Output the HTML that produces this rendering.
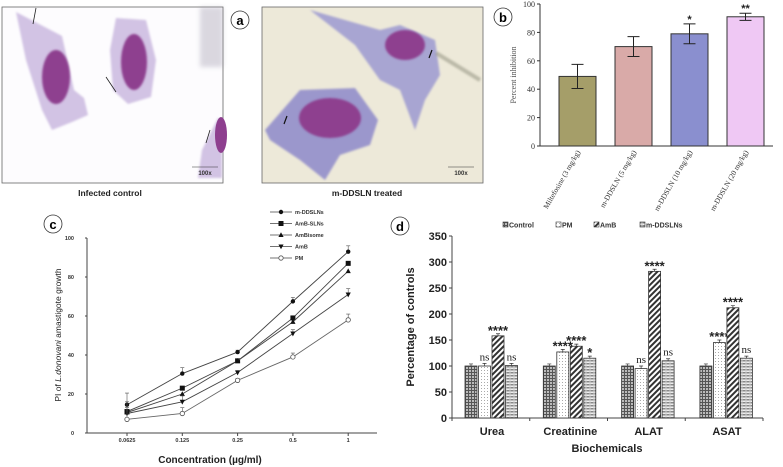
<!DOCTYPE html>
<html><head><meta charset="utf-8"><style>
html,body{margin:0;padding:0;background:#fff;}
svg{display:block;font-family:"Liberation Sans",sans-serif;}
</style></head><body>
<svg width="783" height="467" viewBox="0 0 783 467" xmlns="http://www.w3.org/2000/svg">
<defs>
<filter id="bl" x="-20%" y="-20%" width="140%" height="140%"><feGaussianBlur stdDeviation="2.5"/></filter>
<filter id="bl1"><feGaussianBlur stdDeviation="1"/></filter>
<pattern id="pCtrl" width="3" height="3" patternUnits="userSpaceOnUse"><rect width="3" height="3" fill="#bbb"/><path d="M0 0.5H3M0.5 0V3" stroke="#555" stroke-width="1"/></pattern>
<pattern id="pPM" width="3" height="3" patternUnits="userSpaceOnUse"><rect width="3" height="3" fill="#fff"/><rect x="1" y="1" width="1" height="1" fill="#aaa"/></pattern>
<pattern id="pAmB" width="4" height="4" patternUnits="userSpaceOnUse" patternTransform="rotate(45)"><rect width="4" height="4" fill="#fff"/><rect width="2" height="4" fill="#333"/></pattern>
<pattern id="pDD" width="4" height="3" patternUnits="userSpaceOnUse"><rect width="4" height="3" fill="#eee"/><rect y="0" width="4" height="1.5" fill="#888"/><rect x="1.5" width="1" height="3" fill="#ccc"/></pattern>
</defs>

<g>
<rect x="2" y="7" width="221" height="176" fill="#fdfcfe" stroke="#666" stroke-width="0.8"/>
<rect x="200" y="7" width="23" height="60" fill="#9a94a8" opacity="0.35" filter="url(#bl)"/>
<path d="M16 12 L62 36 L74 90 L84 98 L88 115 L72 122 L52 130 L42 110 L26 60 Z" fill="#d2c3e4" filter="url(#bl1)"/>
<ellipse cx="56" cy="77" rx="14" ry="27" fill="#8e3f8f" filter="url(#bl1)"/>
<path d="M116 18 L146 20 L156 60 L151 97 L128 104 L113 90 L110 50 Z" fill="#d2c3e4" filter="url(#bl1)"/>
<ellipse cx="134" cy="62" rx="13" ry="28" fill="#8e3f8f" filter="url(#bl1)"/>
<path d="M202 150 L218 118 L222 120 L222 178 L198 178 Z" fill="#d2c3e4" filter="url(#bl1)"/>
<ellipse cx="221" cy="135" rx="6" ry="18" fill="#8e3f8f"/>
<path d="M36 8 L33 24 M106 77 L116 92 M210 130 L206 143" stroke="#222" stroke-width="0.8"/>
<line x1="192" y1="167" x2="218" y2="167" stroke="#333" stroke-width="0.6"/>
<text x="205" y="175" font-size="6" font-weight="bold" text-anchor="middle" fill="#333">100x</text>
</g>
<text x="110" y="196" font-size="8.5" font-weight="bold" text-anchor="middle" fill="#222">Infected control</text>
<g><circle cx="240" cy="20" r="9" fill="#fff" stroke="#333" stroke-width="0.8"/><text x="240" y="25" font-size="13" font-weight="bold" text-anchor="middle">a</text></g>

<g>
<rect x="262" y="7" width="221" height="176" fill="#ede9d9" stroke="#666" stroke-width="0.8"/>
<path d="M310 10 L380 30 L400 25 L435 40 L440 75 L425 100 L415 130 L400 90 L380 80 L355 45 Z" fill="#a8a5d2" filter="url(#bl1)"/>
<ellipse cx="405" cy="45" rx="20" ry="15" fill="#8e3f8f" filter="url(#bl1)"/>
<path d="M265 130 L300 90 L355 88 L378 120 L370 145 L340 155 L325 180 L300 160 L270 140 Z" fill="#9b97cc" filter="url(#bl1)"/>
<ellipse cx="330" cy="118" rx="31" ry="20" fill="#8e3f8f" filter="url(#bl1)"/>
<path d="M436 53 L480 80" stroke="#8a8a78" stroke-width="4" opacity="0.5" filter="url(#bl1)"/>
<path d="M432 50 L429 58 M287 116 L284 124" stroke="#111" stroke-width="1.2"/>
<line x1="448" y1="167" x2="474" y2="167" stroke="#333" stroke-width="0.6"/>
<text x="461" y="175" font-size="6" font-weight="bold" text-anchor="middle" fill="#333">100x</text>
</g>
<text x="367" y="196" font-size="8.5" font-weight="bold" text-anchor="middle" fill="#222">m-DDSLN treated</text>
<g><circle cx="503" cy="17" r="9" fill="#fff" stroke="#333" stroke-width="0.8"/><text x="503" y="22" font-size="13" font-weight="bold" text-anchor="middle">b</text></g>

<g id="chartB"></g>
<g id="chartC"></g>
<g id="chartD"></g>
<g><circle cx="53" cy="224" r="9" fill="#fff" stroke="#333" stroke-width="0.8"/><text x="53" y="229" font-size="13" font-weight="bold" text-anchor="middle">c</text></g>
<g><circle cx="400" cy="226" r="9" fill="#fff" stroke="#333" stroke-width="0.8"/><text x="400" y="231" font-size="13" font-weight="bold" text-anchor="middle">d</text></g>
</svg>
<script>
const NS="http://www.w3.org/2000/svg";
function mk(p,t,a,txt){const e=document.createElementNS(NS,t);for(const k in a)e.setAttribute(k,a[k]);if(txt!==undefined)e.textContent=txt;p.appendChild(e);return e;}

// Chart B data
const bCats=["Miltefosine (3 mg/kg)","m-DDSLN (5 mg/kg)","m-DDSLN (10 mg/kg)","m-DDSLN (20 mg/kg)"];
const bVals=[49,70,79,91];
const bErr=[8.5,7,7,2.5];
const bSig=["","","*","**"];
const bColors=["#a59e69","#d9aaa8","#8a8fcf","#efc8f4"];
const bTicks=[0,20,40,60,80,100];

// Chart C data
const cCats=["0.0625","0.125","0.25","0.5","1"];
const cSeries=["m-DDSLNs","AmB-SLNs","AmBisome","AmB","PM"];
const cMDD=[14.5,30.5,41.5,67.5,93];
const cAmBSLN=[11,23,37,59,87];
const cAmBisome=[10.5,20,37,57,83];
const cAmB=[10,16,31,51,71];
const cPM=[7,10,27,39,58];
const cErr=[6,3,1,2,3];
const cTicks=[0,20,40,60,80,100];

// Chart D data
const dCats=["Urea","Creatinine","ALAT","ASAT"];
const dSeries=["Control","PM","AmB","m-DDSLNs"];
const dControl=[100,100,100,100];
const dPM=[100,127,95,145];
const dAmB=[158,138,282,212];
const dDD=[101,115,110,115];
const dSigPM=["ns","****","ns","****"];
const dSigAmB=["****","****","****","****"];
const dSigDD=["ns","*","ns","ns"];
const dTicks=[0,50,100,150,200,250,300,350];

(function(){
const g=document.getElementById('chartB');
const y=v=>146-v*1.42;
const x=i=>577.5+i*56;
mk(g,'line',{x1:540,y1:4,x2:540,y2:146,stroke:'#333','stroke-width':1});
mk(g,'line',{x1:540,y1:146,x2:773,y2:146,stroke:'#333','stroke-width':1});
bTicks.forEach(t=>{mk(g,'line',{x1:537,y1:y(t),x2:540,y2:y(t),stroke:'#333'});
 const e=mk(g,'text',{x:535,y:y(t)+3,'font-size':8,'text-anchor':'end','font-family':'Liberation Serif,serif',fill:'#333'},t);});
const yt=mk(g,'text',{x:0,y:0,transform:'translate(516,75) rotate(-90)','font-size':8,'text-anchor':'middle','font-family':'Liberation Serif,serif',fill:'#555'},'Percent inhibition');

bVals.forEach((v,i)=>{
 const r=mk(g,'rect',{x:x(i)-18.5,y:y(v),width:37,height:146-y(v),fill:bColors[i],stroke:'#333','stroke-width':1});
 
 const t=y(v+bErr[i]),b=y(v-bErr[i]);
 mk(g,'path',{d:`M${x(i)} ${t}V${b}M${x(i)-6} ${t}H${x(i)+6}M${x(i)-6} ${b}H${x(i)+6}`,stroke:'#222',fill:'none'});
 if(bSig[i])mk(g,'text',{x:x(i),y:t-1,'font-size':11,'font-weight':'bold','text-anchor':'middle',fill:'#222'},bSig[i]);
 const l=mk(g,'text',{x:0,y:0,transform:`translate(${x(i)+3},${152}) rotate(-60)`,'font-size':7.5,'text-anchor':'end','font-family':'Liberation Serif,serif',fill:'#333'},bCats[i]);
 
});
})();

(function(){
const g=document.getElementById('chartC');
const y=v=>433-v*1.95;
const x=i=>127+i*55.3;
mk(g,'line',{x1:87,y1:238,x2:87,y2:433,stroke:'#444'});
mk(g,'line',{x1:87,y1:433,x2:377,y2:433,stroke:'#444'});
cTicks.forEach(t=>{mk(g,'line',{x1:85,y1:y(t),x2:87,y2:y(t),stroke:'#444'});
 const e=mk(g,'text',{x:74,y:y(t)+2,'font-size':5.5,'font-weight':'bold','text-anchor':'end',fill:'#333'},t);});
cCats.forEach((c,i)=>{mk(g,'line',{x1:x(i),y1:433,x2:x(i),y2:436,stroke:'#444'});
 const e=mk(g,'text',{x:x(i),y:442,'font-size':5.5,'font-weight':'bold','text-anchor':'middle',fill:'#333'},c);});
const xt=mk(g,'text',{x:210,y:463,'font-size':10,'font-weight':'bold','text-anchor':'middle',fill:'#222'},'Concentration (µg/ml)');

const yt=mk(g,'text',{x:0,y:0,transform:'translate(61,335) rotate(-90)','font-size':8.5,'text-anchor':'middle',fill:'#222'});

yt.innerHTML='PI of <tspan font-style="italic">L.donovani</tspan> amastigote growth';
const data=[cMDD,cAmBSLN,cAmBisome,cAmB,cPM];
const mkr=['circle','square','tri','tridown','open'];
function marker(p,m,cx,cy){
 if(m==='circle')mk(p,'circle',{cx,cy,r:2.2,fill:'#111'});
 else if(m==='square')mk(p,'rect',{x:cx-2.5,y:cy-2.5,width:5,height:5,fill:'#111'});
 else if(m==='tri')mk(p,'path',{d:`M${cx} ${cy-2.8}L${cx+2.6} ${cy+2}L${cx-2.6} ${cy+2}Z`,fill:'#111'});
 else if(m==='tridown')mk(p,'path',{d:`M${cx} ${cy+2.8}L${cx+2.6} ${cy-2}L${cx-2.6} ${cy-2}Z`,fill:'#111'});
 else mk(p,'circle',{cx,cy,r:2.2,fill:'#fff',stroke:'#555','stroke-width':0.8});
}
data.forEach((s,si)=>{
 const sg=mk(g,'g',{});
 mk(sg,'polyline',{points:s.map((v,i)=>x(i)+','+y(v)).join(' '),fill:'none',stroke:si===4?'#666':'#444','stroke-width':0.9});
 s.forEach((v,i)=>{ if(si===0||si===3||si===4){const e=y(v+cErr[i]);mk(sg,'path',{d:`M${x(i)} ${y(v)}V${e}M${x(i)-2} ${e}H${x(i)+2}`,stroke:'#555','stroke-width':0.6});}
  marker(sg,mkr[si],x(i),y(v));});
 const ly=212+si*11.5;
 const lg=mk(g,'g',{});
 mk(lg,'line',{x1:270,y1:ly,x2:292,y2:ly,stroke:'#444','stroke-width':0.8});
 marker(lg,mkr[si],281,ly);
 mk(lg,'text',{x:295,y:ly+2,'font-size':5.5,'font-weight':'bold',fill:'#333'},cSeries[si]);
});
})();

(function(){
const g=document.getElementById('chartD');
const y=v=>418-v*0.52;
const gx=i=>465+i*78.3;
const bw=12, step=13.5;
const fills=['url(#pCtrl)','url(#pPM)','url(#pAmB)','url(#pDD)'];
mk(g,'line',{x1:452,y1:236,x2:452,y2:418,stroke:'#444','stroke-width':1});
mk(g,'line',{x1:452,y1:418,x2:763,y2:418,stroke:'#444','stroke-width':1});
dTicks.forEach(t=>{mk(g,'line',{x1:449,y1:y(t),x2:452,y2:y(t),stroke:'#444'});
 const e=mk(g,'text',{x:447,y:y(t)+4,'font-size':11,'font-weight':'bold','text-anchor':'end',fill:'#222'},t);});
[0,1,2,3,4].forEach(i=>{const xx=452+i*(311/4);mk(g,'line',{x1:xx,y1:418,x2:xx,y2:421,stroke:'#444'});});
const yt=mk(g,'text',{x:0,y:0,transform:'translate(414,327) rotate(-90)','font-size':11,'font-weight':'bold','text-anchor':'middle',fill:'#222'},'Percentage of controls');

const xt=mk(g,'text',{x:607,y:452,'font-size':11,'font-weight':'bold','text-anchor':'middle',fill:'#222'},'Biochemicals');

const data=[dControl,dPM,dAmB,dDD];
const sigs=[null,dSigPM,dSigAmB,dSigDD];
const errs=[4,5,4,4];
dCats.forEach((c,ci)=>{
 const e=mk(g,'text',{x:gx(ci)+27,y:435,'font-size':11,'font-weight':'bold','text-anchor':'middle',fill:'#222'},c);
 data.forEach((s,si)=>{
  const v=s[ci],bx=gx(ci)+si*step;
  const r=mk(g,'rect',{x:bx,y:y(v),width:bw,height:418-y(v),fill:fills[si],stroke:'#333','stroke-width':0.8});
  
  const cx=bx+bw/2,t=y(v+errs[si]);
  mk(g,'path',{d:`M${cx} ${y(v)}V${t}M${cx-2} ${t}H${cx+2}`,stroke:'#333','stroke-width':0.7});
  if(sigs[si]){const sg=sigs[si][ci];const isNs=sg==='ns';
   mk(g,'text',{x:cx,y:isNs?t-3:t+1,'font-size':isNs?11:13,'font-weight':isNs?'normal':'bold','font-family':isNs?'Liberation Serif,serif':'Liberation Sans,sans-serif','text-anchor':'middle',fill:'#222'},sg);}
 });
});
const lx=[503,556,594,640];
dSeries.forEach((s,i)=>{
 const lg=mk(g,'g',{});
 mk(lg,'rect',{x:lx[i],y:222,width:5,height:5,fill:fills[i],stroke:'#333','stroke-width':0.6});
 mk(lg,'text',{x:lx[i]+6,y:227.5,'font-size':7,'font-weight':'bold',fill:'#333'},s);
});
})();
</script>
</body></html>
